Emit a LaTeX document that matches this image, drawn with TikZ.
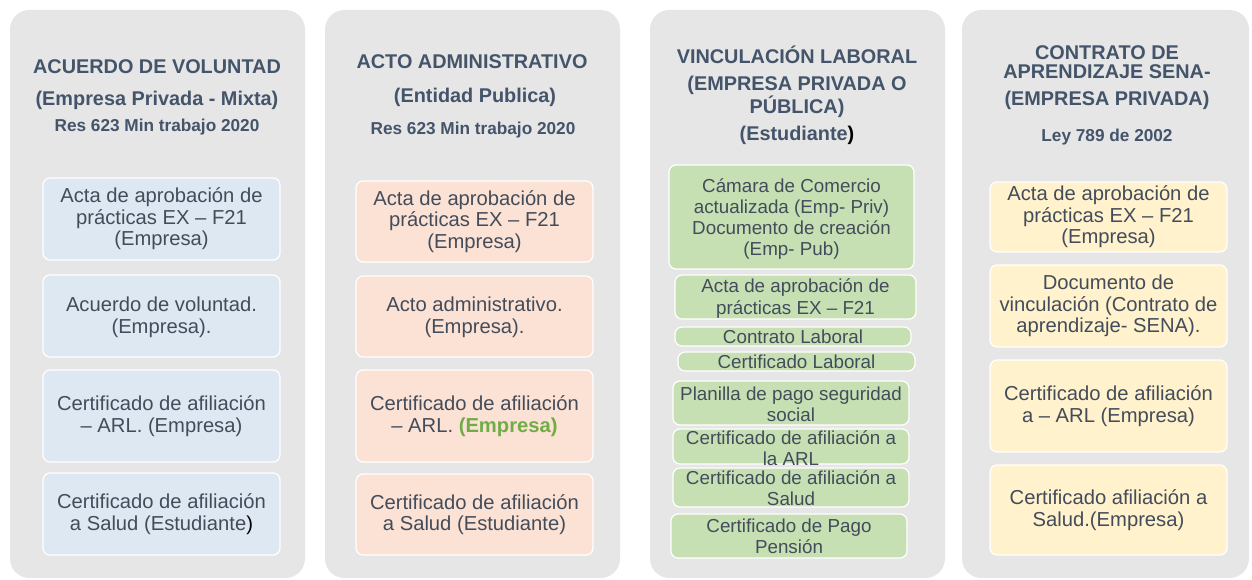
\documentclass[tikz,border=0pt]{standalone}
\usepackage{fontspec}
\setmainfont{Liberation Sans}

\definecolor{panelgray}{HTML}{E6E6E6}
\definecolor{hdrblue}{HTML}{44546A}
\definecolor{txtgray}{HTML}{434C5A}
\definecolor{boxblue}{HTML}{DEE8F3}
\definecolor{boxpeach}{HTML}{FBE2D4}
\definecolor{boxgreen}{HTML}{C6E0B4}
\definecolor{boxyellow}{HTML}{FFF2CC}
\definecolor{empgreen}{HTML}{70AD47}

\tikzset{
  panel/.style={fill=panelgray, rounded corners=11pt},
  hdr/.style={text=hdrblue, inner sep=0pt, font=\bfseries\fontsize{11.3}{12}\selectfont},
  subhdr/.style={text=hdrblue, inner sep=0pt, font=\bfseries\fontsize{9.8}{11}\selectfont},
  doc/.style={text=txtgray, align=center, inner sep=0pt, font=\fontsize{11.5}{12.3}\selectfont},
  docsm/.style={doc, font=\fontsize{10.7}{12.1}\selectfont},
  card/.style={draw=white, line width=0.7pt, rounded corners=4pt},
  bluecard/.style={card, fill=boxblue},
  peachcard/.style={card, fill=boxpeach},
  greencard/.style={card, fill=boxgreen},
  yellowcard/.style={card, fill=boxyellow}
}

\begin{document}
\begin{tikzpicture}[x=0.02cm, y=-0.02cm]
	\useasboundingbox (0,0) rectangle (1252,580);
	% panels
	\fill [panel] (10,10) rectangle (305,578);
	\fill [panel] (325,10) rectangle (620,578);
	\fill [panel] (650,10) rectangle (945,578);
	\fill [panel] (962,10) rectangle (1249,578);

	% column 1: acuerdo de voluntad
	\node [hdr] (v1) at (157,67) {ACUERDO DE VOLUNTAD};
	\node [hdr] (v2) at (157,100) {(Empresa Privada - Mixta)};
	\node [subhdr] (v3) at (157,127) {Res 623 Min trabajo 2020};
	\draw [bluecard] (43,178) rectangle (280,260);
	\node [doc] (va) at (161.5,219) {Acta de aprobación de\\prácticas EX – F21\\(Empresa)};
	\draw [bluecard] (43,275) rectangle (280,357);
	\node [doc] (vb) at (161.5,317) {Acuerdo de voluntad.\\(Empresa).};
	\draw [bluecard] (43,370) rectangle (280,462);
	\node [doc] (vc) at (161.5,416) {Certificado de afiliación\\– ARL. (Empresa)};
	\draw [bluecard] (43,473) rectangle (280,555);
	\node [doc] (vd) at (161.5,514) {Certificado de afiliación\\a Salud (Estudiante{\color{black})}};

	% column 2: acto administrativo
	\node [hdr] (a1) at (472,62) {ACTO ADMINISTRATIVO};
	\node [hdr] (a2) at (475,97) {(Entidad Publica)};
	\node [subhdr] (a3) at (473,130) {Res 623 Min trabajo 2020};
	\draw [peachcard] (356,181) rectangle (593,262);
	\node [doc] (aa) at (474.5,221.5) {Acta de aprobación de\\prácticas EX – F21\\(Empresa)};
	\draw [peachcard] (356,276) rectangle (593,357);
	\node [doc] (ab) at (474.5,317) {Acto administrativo.\\(Empresa).};
	\draw [peachcard] (356,370) rectangle (593,462);
	\node [doc] (ac) at (474.5,416) {Certificado de afiliación\\– ARL. {\color{empgreen}\bfseries(Empresa)}};
	\draw [peachcard] (356,474) rectangle (593,555);
	\node [doc] (ad) at (474.5,514.5) {Certificado de afiliación\\a Salud (Estudiante)};

	% column 3: vinculacion laboral
	\node [hdr] (l1) at (797,55) {VINCULACIÓN LABORAL};
	\node [hdr] (l2) at (797,85) {(EMPRESA PRIVADA O};
	\node [hdr] (l3) at (797,107) {PÚBLICA)};
	\node [hdr] (l4) at (797,135) {(Estudiante{\color{black})}};
	\draw [greencard] (669,165) rectangle (914,269);
	\node [docsm] (la) at (791.5,219) {Cámara de Comercio\\actualizada (Emp- Priv)\\Documento de creación\\(Emp- Pub)};
	\draw [greencard] (675,275) rectangle (916,319);
	\node [docsm] (lb) at (795.5,298.5) {Acta de aprobación de\\prácticas EX – F21};
	\draw [greencard] (675,327) rectangle (911,346);
	\node [docsm] (lc) at (793,337) {Contrato Laboral};
	\draw [greencard] (678,352) rectangle (915,371);
	\node [docsm] (ld) at (796.5,362) {Certificado Laboral};
	\draw [greencard] (673,381) rectangle (909,425);
	\node [docsm] (le) at (791,404.5) {Planilla de pago seguridad\\social};
	\draw [greencard] (673,429) rectangle (909,464);
	\node [docsm] (lf) at (791,448) {Certificado de afiliación a\\la ARL};
	\draw [greencard] (673,468) rectangle (909,507);
	\node [docsm] (lg) at (791,488) {Certificado de afiliación a\\Salud};
	\draw [greencard] (671,514) rectangle (907,558);
	\node [docsm] (lh) at (789,536.5) {Certificado de Pago\\Pensión};

	% column 4: contrato de aprendizaje
	\node [hdr] (s1) at (1107,53) {CONTRATO DE};
	\node [hdr] (s2) at (1107,72) {APRENDIZAJE SENA-};
	\node [hdr] (s3) at (1107,100) {(EMPRESA PRIVADA)};
	\node [subhdr] (s4) at (1107,137) {Ley 789 de 2002};
	\draw [yellowcard] (990,182) rectangle (1227,252);
	\node [doc] (sa) at (1108.5,217) {Acta de aprobación de\\prácticas EX – F21\\(Empresa)};
	\draw [yellowcard] (990,265) rectangle (1227,347);
	\node [doc] (sb) at (1108.5,306) {Documento de\\vinculación (Contrato de\\aprendizaje- SENA).};
	\draw [yellowcard] (990,360) rectangle (1227,452);
	\node [doc] (sc) at (1108.5,406) {Certificado de afiliación\\a – ARL (Empresa)};
	\draw [yellowcard] (990,465) rectangle (1227,555);
	\node [doc] (sd) at (1108.5,510) {Certificado afiliación a\\Salud.(Empresa)};
\end{tikzpicture}
\end{document}
